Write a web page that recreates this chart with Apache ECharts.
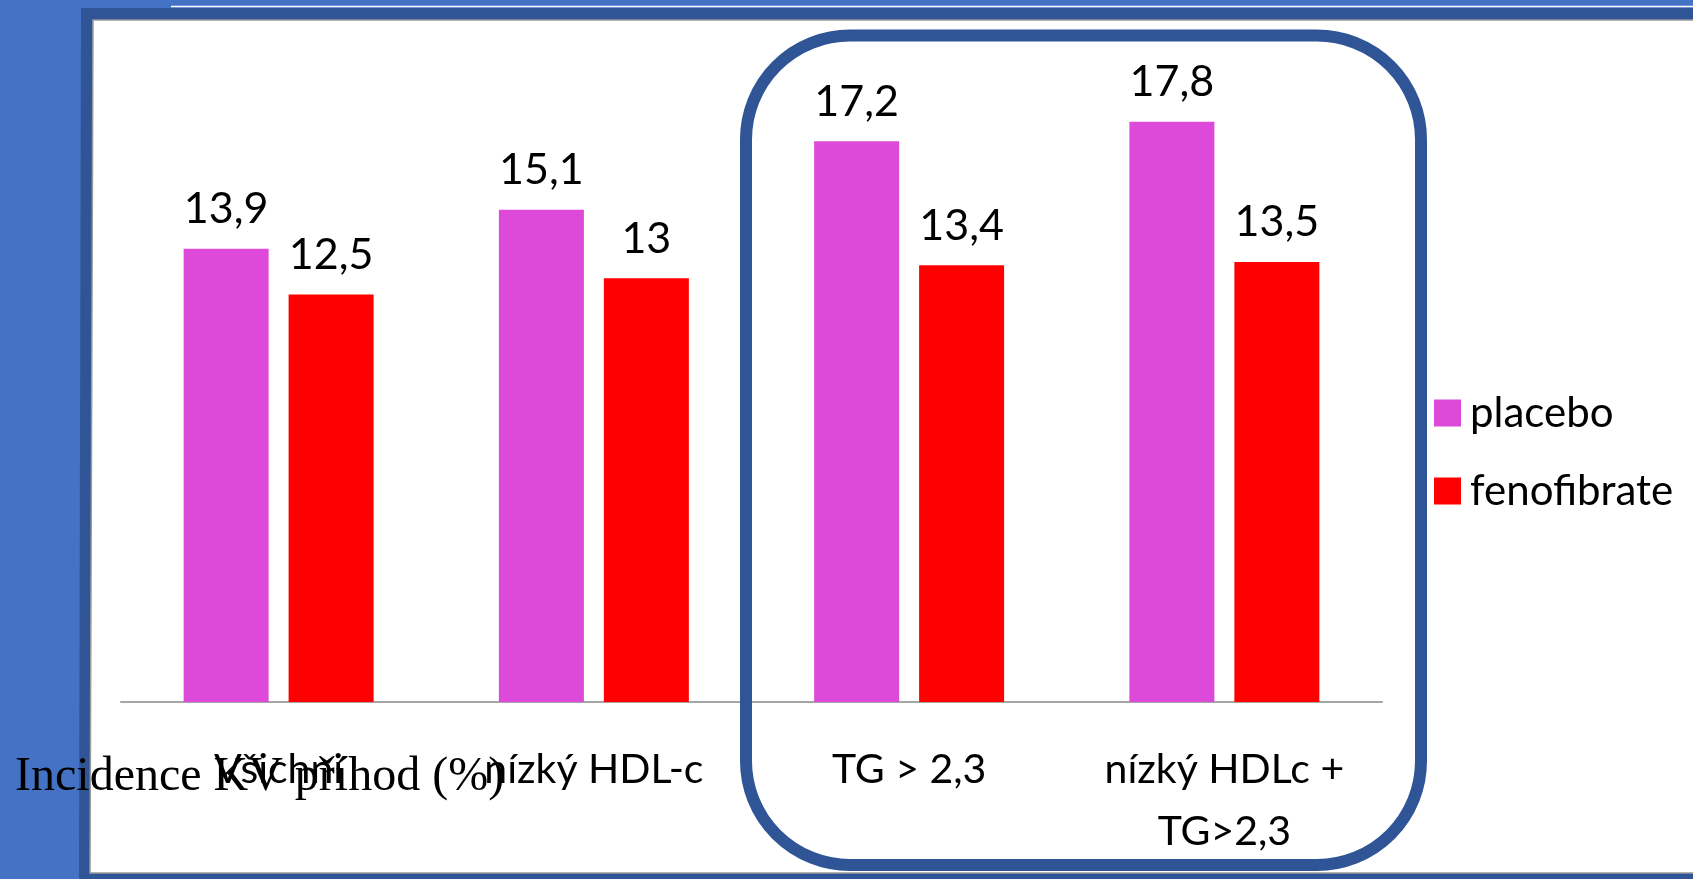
<!DOCTYPE html>
<html>
<head>
<meta charset="utf-8">
<title>Incidence KV příhod</title>
<script src="https://cdn.jsdelivr.net/npm/echarts@6/dist/echarts.min.js"></script>
<style>
  html, body { margin: 0; padding: 0; background: #4472C4; }
  #chart { width: 1693px; height: 879px; }
</style>
</head>
<body>
<div id="chart"></div>
<script>
// Subgroups of the study
const categories = ['Všichni', 'nízký HDL-c', 'TG > 2,3', 'nízký HDLc +\nTG>2,3'];
// Cardiovascular event incidence (%)
const placeboValues = [13.9, 15.1, 17.2, 17.8];
const fenofibrateValues = [12.5, 13, 13.4, 13.5];
const seriesNames = ['placebo', 'fenofibrate'];
const axisTitle = 'Incidence KV příhod (%)';

const SANS = 'Lato, "Open Sans", sans-serif';
const fmtComma = p => String(p.value).replace('.', ',');

const chart = echarts.init(document.getElementById('chart'), null, { renderer: 'canvas' });

chart.setOption({
  backgroundColor: '#4472C4',
  animation: false,
  graphic: [
    // slide frame
    { type: 'polygon', z: -20, silent: true,
      shape: { points: [[81, 8], [1693, 8], [1693, 879], [79, 879]] },
      style: { fill: '#2F5597' } },
    { type: 'line', z: -19, silent: true,
      shape: { x1: 171, y1: 6.5, x2: 1693, y2: 6.5 },
      style: { stroke: '#ffffff', lineWidth: 1.5 } },
    { type: 'polygon', z: -18, silent: true,
      shape: { points: [[93, 20], [1700, 20], [1700, 873], [90, 873]] },
      style: { fill: '#ffffff', stroke: '#9a9a9a', lineWidth: 1.5 } },
    // highlight box around the triglyceride subgroups
    { type: 'rect', z: 50, silent: true,
      shape: { x: 746, y: 35.5, width: 675, height: 829.5, r: 104 },
      style: { fill: 'none', stroke: '#2F5597', lineWidth: 12 } },
    // value axis title
    { type: 'text', z: 60, silent: true, left: 15, top: 753,
      style: { text: axisTitle, fill: '#000', font: '48px "Liberation Serif", "DejaVu Serif", serif' } }
  ],
  legend: {
    orient: 'vertical',
    left: 1429,
    top: 387,
    itemWidth: 27,
    itemHeight: 27,
    itemGap: 36,
    icon: 'rect',
    data: seriesNames,
    textStyle: { fontFamily: SANS, fontSize: 42, lineHeight: 42, color: '#000', padding: [0, 0, 0, 4] }
  },
  grid: { left: 121, right: 311, top: 50, bottom: 177, containLabel: false },
  xAxis: {
    type: 'category',
    data: categories,
    axisLine: { show: true, lineStyle: { color: '#a6a6a6', width: 2 } },
    axisTick: { show: false },
    axisLabel: { fontFamily: SANS, fontSize: 41, lineHeight: 62, color: '#000', margin: 37, interval: 0 }
  },
  yAxis: {
    type: 'value', min: 0, max: 20, show: false,
    splitLine: { show: false }
  },
  series: [
    {
      name: seriesNames[0], type: 'bar', data: placeboValues,
      barWidth: 85, barGap: '23.5%',
      itemStyle: { color: '#DD4ADA' },
      label: { show: true, position: 'top', distance: 18, formatter: fmtComma,
               fontFamily: SANS, fontSize: 43, color: '#000' }
    },
    {
      name: seriesNames[1], type: 'bar', data: fenofibrateValues,
      barWidth: 85, barGap: '23.5%',
      itemStyle: { color: '#FF0000' },
      label: { show: true, position: 'top', distance: 18, formatter: fmtComma,
               fontFamily: SANS, fontSize: 43, color: '#000' }
    }
  ]
});
</script>
</body>
</html>
